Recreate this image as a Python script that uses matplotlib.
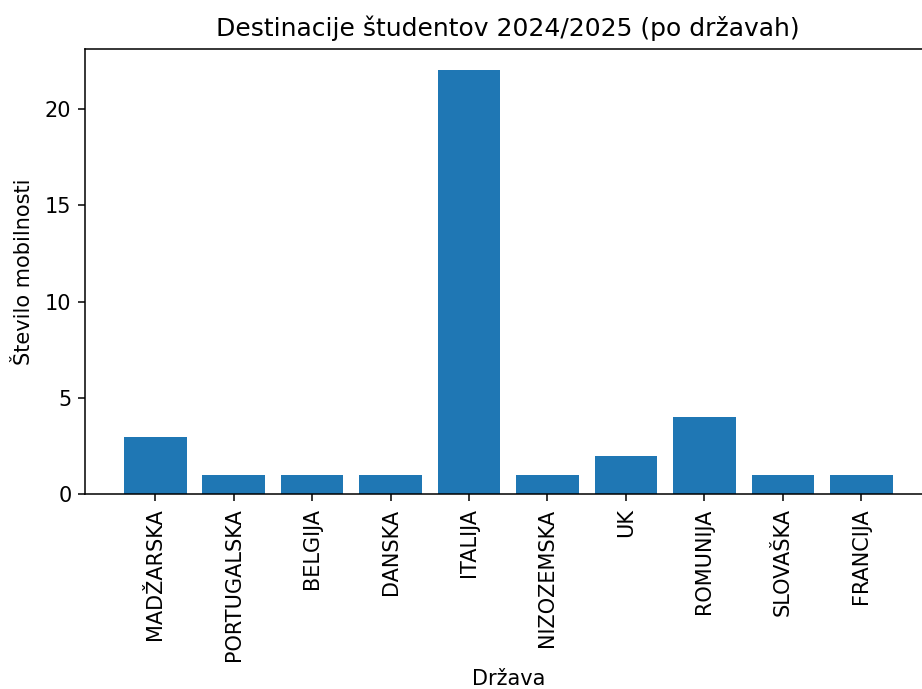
import matplotlib
matplotlib.use("Agg")
import matplotlib.pyplot as plt

drzave = ["MADŽARSKA", "PORTUGALSKA", "BELGIJA", "DANSKA", "ITALIJA",
          "NIZOZEMSKA", "UK", "ROMUNIJA", "SLOVAŠKA", "FRANCIJA"]
stevilo = [3, 1, 1, 1, 22, 1, 2, 4, 1, 1]

fig = plt.figure(figsize=(9.22, 6.89), dpi=100)
# reference is cropped on the right, axes runs past the figure edge
ax = fig.add_axes([0.0925, 0.2823, 0.9175, 0.6466])
ax.bar(drzave, stevilo, color="#1f77b4")
ax.set_title("Destinacije študentov 2024/2025 (po državah)", fontsize=18, pad=9)
ax.set_xlabel("Država", fontsize=15, labelpad=6)
ax.set_ylabel("Število mobilnosti", fontsize=15, labelpad=8)
ax.tick_params(axis="both", labelsize=15, length=5, width=1.1, pad=5)
for s in ax.spines.values():
    s.set_linewidth(1.1)
plt.xticks(rotation=90)
fig.savefig("out.png", dpi=100)
